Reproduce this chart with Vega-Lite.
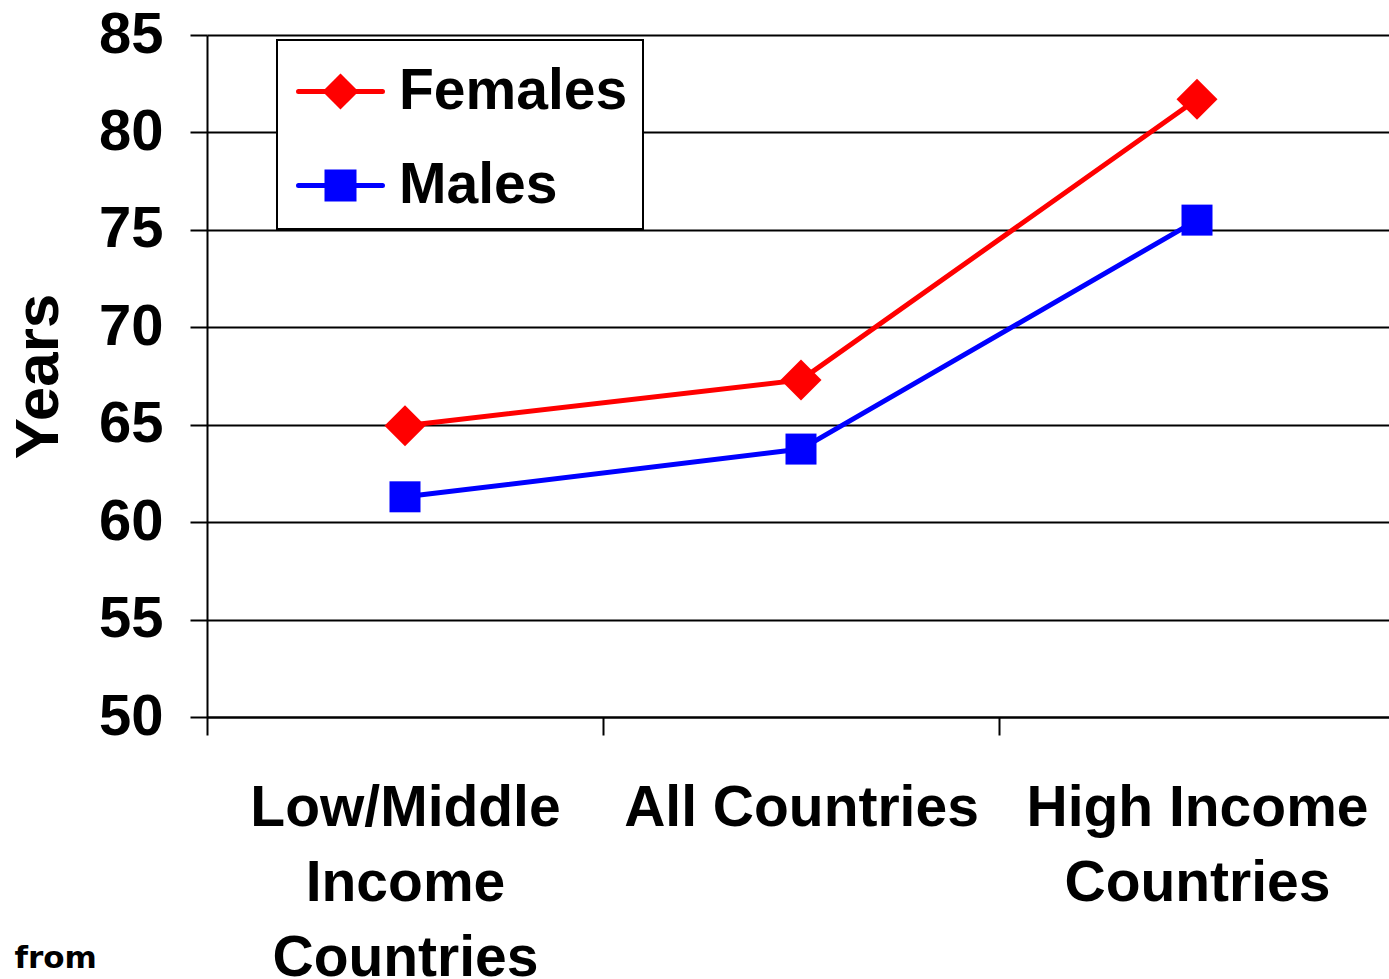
{
  "$schema": "https://vega.github.io/schema/vega-lite/v6.json",
  "width": 1182,
  "height": 682,
  "autosize": "none",
  "padding": {"left": 207, "top": 35, "right": 0, "bottom": 262},
  "background": "white",
  "config": {
    "view": {"stroke": null},
    "font": "Liberation Sans",
    "legend": {"strokeWidth": 2}
  },
  "data": {
    "values": [
      {"region": "Low/Middle Income Countries", "sex": "Females", "years": 64.95},
      {"region": "All Countries", "sex": "Females", "years": 67.3},
      {"region": "High Income Countries", "sex": "Females", "years": 81.7},
      {"region": "Low/Middle Income Countries", "sex": "Males", "years": 61.3},
      {"region": "All Countries", "sex": "Males", "years": 63.75},
      {"region": "High Income Countries", "sex": "Males", "years": 75.5}
    ]
  },
  "encoding": {
    "x": {
      "field": "region",
      "type": "nominal",
      "sort": ["Low/Middle Income Countries", "All Countries", "High Income Countries"],
      "scale": {"type": "band", "paddingInner": 0, "paddingOuter": 0, "range": [0, 1188]},
      "axis": {
        "title": "from",
        "labelAngle": 0,
        "labelFontSize": 57,
        "labelFontWeight": "bold",
        "labelColor": "black",
        "labelLineHeight": 75,
        "labelPadding": 45,
        "labelBaseline": "top",
        "labelLimit": 0,
        "labelOverlap": false,
        "labelExpr": "datum.value == 'Low/Middle Income Countries' ? ['Low/Middle', 'Income', 'Countries'] : datum.value == 'High Income Countries' ? ['High Income', 'Countries'] : datum.label",
        "tickSize": 18,
        "tickColor": "black",
        "tickWidth": 2,
        "tickBand": "extent",
        "domainColor": "black",
        "domainWidth": 2,
        "grid": false,
        "titleX": -193,
        "titleY": 250,
        "titleAlign": "left",
        "titleBaseline": "alphabetic",
        "titleFont": "DejaVu Sans",
        "titleFontSize": 31,
        "titleFontWeight": "bold",
        "titleColor": "black"
      }
    },
    "y": {
      "field": "years",
      "type": "quantitative",
      "scale": {"domain": [50, 85], "nice": false, "zero": false},
      "axis": {
        "title": "Years",
        "values": [50, 55, 60, 65, 70, 75, 80, 85],
        "grid": true,
        "gridColor": "black",
        "gridWidth": 2,
        "gridOpacity": 1,
        "labelFontSize": 58,
        "labelFontWeight": "bold",
        "labelColor": "black",
        "labelPadding": 27,
        "tickSize": 17,
        "tickColor": "black",
        "tickWidth": 2,
        "domainColor": "black",
        "domainWidth": 2,
        "titleFontSize": 62,
        "titleFontWeight": "bold",
        "titleColor": "black",
        "titlePadding": 28
      }
    },
    "color": {
      "field": "sex",
      "type": "nominal",
      "scale": {"domain": ["Females", "Males"], "range": ["#ff0000", "#0000ff"]},
      "legend": {
        "title": null,
        "orient": "none",
        "legendX": 70,
        "legendY": 5,
        "fillColor": "white",
        "strokeColor": "black",
        "padding": 15,
        "rowPadding": 29,
        "labelFontSize": 57,
        "labelFontWeight": "bold",
        "labelColor": "black",
        "labelOffset": 22,
        "labelLimit": 0,
        "symbolSize": 4624,
        "symbolOffset": 12,
        "symbolStrokeWidth": 5,
        "encode": {
          "symbols": {
            "update": {
              "shape": {"signal": "datum.value === 'Females' ? 'M-1.235,0L1.235,0M-0.426,0L0,-0.426L0.426,0L0,0.426Z' : 'M-1.235,0L1.235,0M-0.397,-0.397L0.397,-0.397L0.397,0.397L-0.397,0.397Z'"},
              "fill": {"signal": "datum.value === 'Females' ? '#ff0000' : '#0000ff'"},
              "stroke": {"signal": "datum.value === 'Females' ? '#ff0000' : '#0000ff'"},
              "strokeWidth": {"value": 5},
              "strokeCap": {"value": "round"},
              "size": {"value": 4624},
              "opacity": {"value": 1},
              "fillOpacity": {"value": 1},
              "strokeOpacity": {"value": 1}
            }
          }
        }
      }
    }
  },
  "layer": [
    {"mark": {"type": "line", "strokeWidth": 5}},
    {
      "transform": [{"filter": "datum.sex === 'Females'"}],
      "mark": {"type": "point", "filled": true, "opacity": 1, "strokeWidth": 0, "shape": "diamond", "size": 1681}
    },
    {
      "transform": [{"filter": "datum.sex === 'Males'"}],
      "mark": {"type": "point", "filled": true, "opacity": 1, "strokeWidth": 0, "shape": "square", "size": 961}
    }
  ]
}
